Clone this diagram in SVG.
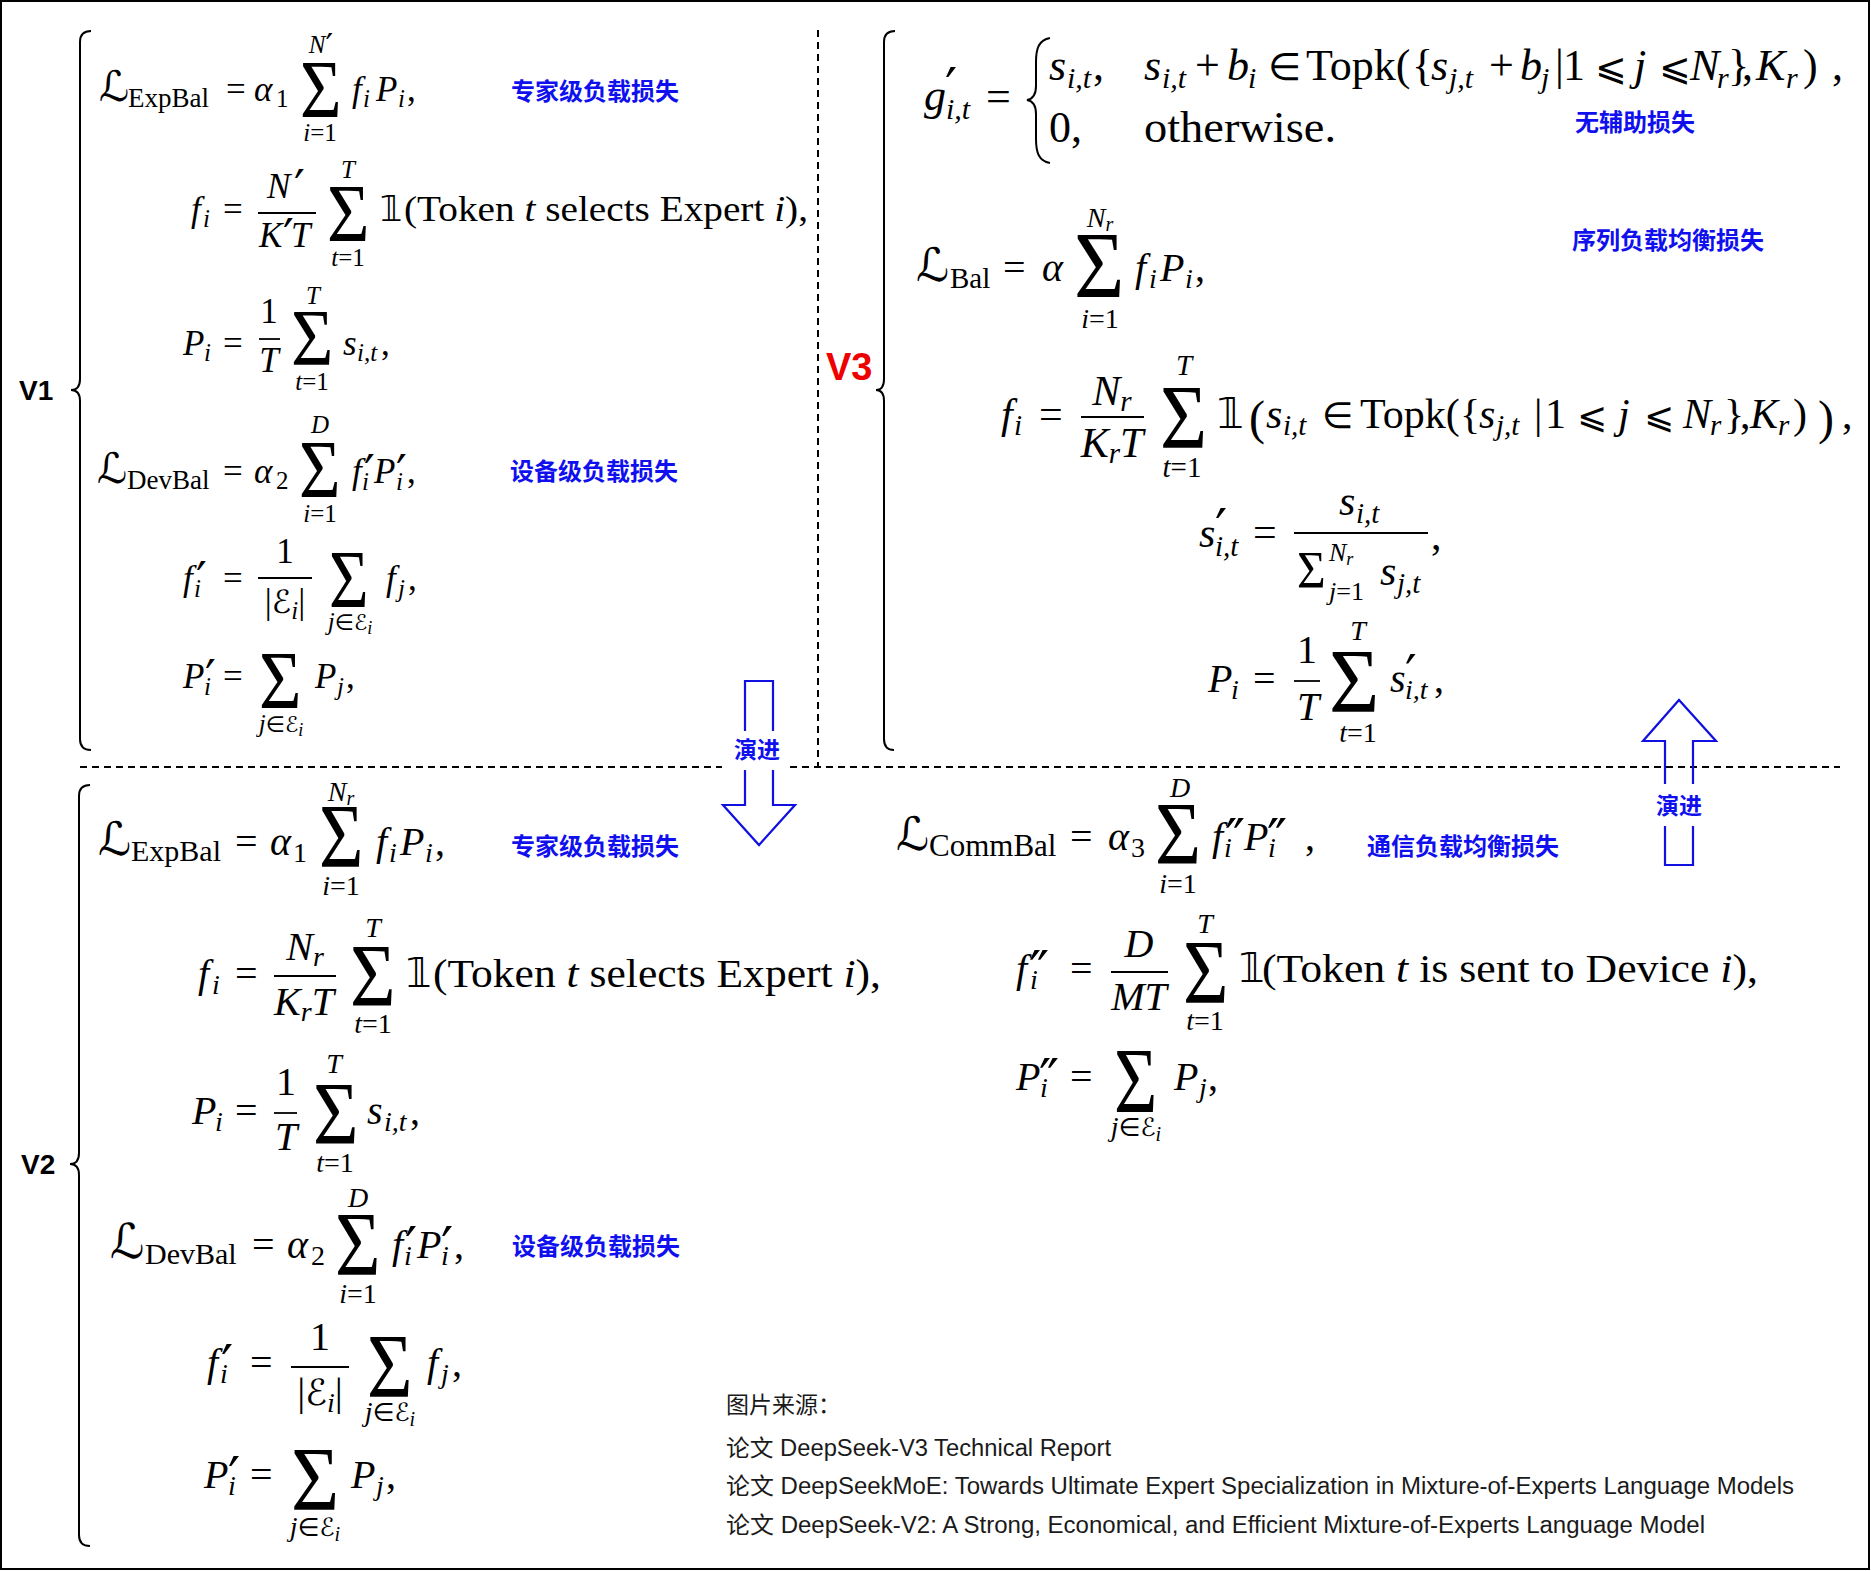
<svg xmlns="http://www.w3.org/2000/svg" width="1871" height="1571" viewBox="0 0 1871 1571">
<style>
.m{font-family:"Liberation Serif","DejaVu Serif",serif;fill:#000}
.i{font-style:italic}
.x{font-family:"DejaVu Sans","DejaVu Serif",sans-serif;font-style:normal}
.c{text-anchor:middle}
.fb{stroke:#000;stroke-width:1.8}
.br{fill:none;stroke:#000;stroke-width:2}
.dash{stroke:#000;stroke-width:2;stroke-dasharray:7 5;fill:none}
.lb{font-family:"Noto Sans CJK SC","Noto Sans CJK JP",sans-serif;font-weight:700;fill:#1010ee}
.v{font-family:"Liberation Sans",Arial,sans-serif;font-weight:700;fill:#000}
.ar{fill:none;stroke:#1010e0;stroke-width:2.2}
.ref{font-family:"Liberation Sans","Noto Sans CJK SC",sans-serif;font-size:23px;fill:#1a1a1a}
</style>
<rect x="0" y="0" width="1871" height="1571" fill="#fff"/>
<rect x="1" y="1" width="1868" height="1568" fill="none" stroke="#000" stroke-width="2"/>

<g id="connectors">
<line class="dash" x1="818" y1="30" x2="818" y2="767"/>
<line class="dash" x1="80" y1="767" x2="722" y2="767"/>
<line class="dash" x1="790" y1="767" x2="1840" y2="767"/>
<path class="ar" d="M745,731 L745,681 L773,681 L773,731 M745,770 L745,805 L723,805 L759,845 L795,805 L773,805 L773,770"/>
<path class="ar" d="M1665,784 L1665,741 L1643,741 L1679,700 L1716,741 L1693,741 L1693,784 M1665,826 L1665,865 L1693,865 L1693,826"/>
<text class="lb c" font-size="23" x="757" y="758">演进</text>
<text class="lb c" font-size="23" x="1679" y="814">演进</text>
</g>

<g id="braces">
<path class="br" d="M91,31 Q80,31 80,42 L80,379 Q80,390 71,390 Q80,390 80,401 L80,739 Q80,750 91,750"/>
<path class="br" d="M895,31 Q884,31 884,42 L884,379 Q884,390 876,390 Q884,390 884,401 L884,739 Q884,750 894,750"/>
<path class="br" d="M90,785 Q79,785 79,796 L79,1153 Q79,1164 70,1164 Q79,1164 79,1175 L79,1535 Q79,1546 90,1546"/>
<text class="v" font-size="28" x="19" y="400">V1</text>
<text class="v" font-size="28" x="21" y="1174">V2</text>
<text class="v" font-size="38" x="826" y="380" style="fill:#ee0000">V3</text>
</g>

<!-- ===== V1 ===== -->
<g id="v1-expbal">
<text class="m" font-size="35"><tspan class="x" x="99" y="101" font-size="42">ℒ</tspan><tspan x="128" y="107" font-size="27">ExpBal</tspan><tspan x="226" y="101">=</tspan><tspan class="i" x="254" y="101">α</tspan><tspan x="276" y="107" font-size="25">1</tspan><tspan class="i" x="352" y="101">f</tspan><tspan class="i" x="363" y="107" font-size="25">i</tspan><tspan class="i" x="376" y="101">P</tspan><tspan class="i" x="398" y="107" font-size="25">i</tspan><tspan x="407" y="101">,</tspan></text>
<text class="m" font-size="83" transform="translate(300,117) scale(0.86,1)">Σ</text>
<text class="m c" font-size="25" x="321" y="53"><tspan class="i">N</tspan><tspan class="x" font-size="34" dy="5">′</tspan></text>
<text class="m c" font-size="25" x="320" y="141"><tspan class="i">i</tspan>=1</text>
<text class="lb" font-size="24" x="511" y="100">专家级负载损失</text>
</g>

<g id="v1-fi">
<text class="m" font-size="35"><tspan class="i" x="191" y="221">f</tspan><tspan class="i" x="203" y="227" font-size="25">i</tspan><tspan x="223" y="221">=</tspan></text>
<text class="m" font-size="35"><tspan class="i" x="267" y="198">N</tspan><tspan class="x" x="294" y="204" font-size="48">′</tspan></text>
<line class="fb" x1="258" y1="213" x2="316" y2="213"/>
<text class="m" font-size="35"><tspan class="i" x="259" y="247">K</tspan><tspan class="x" x="283" y="253" font-size="48">′</tspan><tspan class="i" x="291" y="247">T</tspan></text>
<text class="m" font-size="82" transform="translate(327,241) scale(0.89,1)">Σ</text>
<text class="m c i" font-size="25" x="348" y="178">T</text>
<text class="m c" font-size="25" x="348" y="266"><tspan class="i">t</tspan>=1</text>
<text class="m x" font-size="35" x="380" y="221">𝟙</text>
<text class="m" font-size="35" x="404" y="221" textLength="404" lengthAdjust="spacingAndGlyphs">(Token <tspan class="i">t</tspan> selects Expert <tspan class="i">i</tspan>),</text>
</g>

<g id="v1-pi">
<text class="m" font-size="35"><tspan class="i" x="183" y="355">P</tspan><tspan class="i" x="204" y="361" font-size="25">i</tspan><tspan x="223" y="355">=</tspan></text>
<text class="m c" font-size="35" x="269" y="323">1</text>
<line class="fb" x1="259" y1="339" x2="280" y2="339"/>
<text class="m c i" font-size="35" x="269" y="372">T</text>
<text class="m" font-size="80" transform="translate(291,365) scale(0.91,1)">Σ</text>
<text class="m c i" font-size="25" x="313" y="304">T</text>
<text class="m c" font-size="25" x="312" y="390"><tspan class="i">t</tspan>=1</text>
<text class="m" font-size="35"><tspan class="i" x="343" y="355">s</tspan><tspan class="i" x="357" y="361" font-size="25">i,t</tspan><tspan x="381" y="355">,</tspan></text>
</g>

<g id="v1-devbal">
<text class="m" font-size="35"><tspan class="x" x="97" y="483" font-size="42">ℒ</tspan><tspan x="127" y="489" font-size="27">DevBal</tspan><tspan x="223" y="483">=</tspan><tspan class="i" x="254" y="483">α</tspan><tspan x="276" y="489" font-size="25">2</tspan><tspan class="i" x="352" y="483">f</tspan><tspan class="x" x="364" y="489" font-size="48">′</tspan><tspan class="i" x="362" y="490" font-size="25">i</tspan><tspan class="i" x="374" y="483">P</tspan><tspan class="x" x="396" y="489" font-size="48">′</tspan><tspan class="i" x="396" y="490" font-size="25">i</tspan><tspan x="407" y="483">,</tspan></text>
<text class="m" font-size="83" transform="translate(299,497) scale(0.86,1)">Σ</text>
<text class="m c i" font-size="25" x="320" y="433">D</text>
<text class="m c" font-size="25" x="320" y="522"><tspan class="i">i</tspan>=1</text>
<text class="lb" font-size="24" x="510" y="480">设备级负载损失</text>
</g>

<g id="v1-fprime">
<text class="m" font-size="35"><tspan class="i" x="183" y="590">f</tspan><tspan class="x" x="196" y="596" font-size="48">′</tspan><tspan class="i" x="194" y="597" font-size="25">i</tspan><tspan x="223" y="590">=</tspan></text>
<text class="m c" font-size="35" x="285" y="563">1</text>
<line class="fb" x1="258" y1="578" x2="312" y2="578"/>
<text class="m c" font-size="35" x="285" y="613">|<tspan class="x" font-size="32">ℰ</tspan><tspan class="i" font-size="25" dy="6">i</tspan><tspan dy="-6">|</tspan></text>
<text class="m" font-size="83" transform="translate(329,607) scale(0.82,1)">Σ</text>
<text class="m c" font-size="25" x="350" y="630"><tspan class="i">j</tspan><tspan class="x" font-size="22">∈ℰ</tspan><tspan class="i" font-size="18" dy="4">i</tspan></text>
<text class="m" font-size="35"><tspan class="i" x="386" y="590">f</tspan><tspan class="i" x="398" y="597" font-size="25">j</tspan><tspan x="408" y="590">,</tspan></text>
</g>

<g id="v1-pprime">
<text class="m" font-size="35"><tspan class="i" x="183" y="688">P</tspan><tspan class="x" x="205" y="694" font-size="48">′</tspan><tspan class="i" x="204" y="695" font-size="25">i</tspan><tspan x="223" y="688">=</tspan></text>
<text class="m" font-size="83" transform="translate(259,708) scale(0.88,1)">Σ</text>
<text class="m c" font-size="25" x="281" y="732"><tspan class="i">j</tspan><tspan class="x" font-size="22">∈ℰ</tspan><tspan class="i" font-size="18" dy="4">i</tspan></text>
<text class="m" font-size="35"><tspan class="i" x="315" y="688">P</tspan><tspan class="i" x="337" y="695" font-size="25">j</tspan><tspan x="346" y="688">,</tspan></text>
</g>

<!-- ===== V3 ===== -->
<g id="v3-gate">
<text class="m" font-size="44"><tspan class="i" x="924" y="110">g</tspan><tspan class="x" x="945" y="106" font-size="54">′</tspan><tspan class="i" x="946" y="119" font-size="30">i,t</tspan><tspan x="986" y="111">=</tspan></text>
<path class="br" stroke-width="2.2" d="M1050,38 C1039,40 1036,48 1036,62 L1036,86 C1036,95 1033,99 1027,100 C1033,101 1036,105 1036,114 L1036,139 C1036,153 1039,161 1050,163"/>
<text class="m" font-size="44"><tspan class="i" x="1049" y="80">s</tspan><tspan class="i" x="1067" y="88" font-size="30">i,t</tspan><tspan x="1093" y="80">,</tspan></text>
<text class="m" font-size="44"><tspan class="i" x="1144" y="80">s</tspan><tspan class="i" x="1162" y="88" font-size="30">i,t</tspan><tspan x="1195" y="80">+</tspan><tspan class="i" x="1227" y="80">b</tspan><tspan class="i" x="1248" y="88" font-size="30">i</tspan><tspan class="x" x="1268" y="80" font-size="38">∈</tspan><tspan x="1306" y="80">Topk(</tspan><tspan x="1412" y="80">{</tspan><tspan class="i" x="1431" y="80">s</tspan><tspan class="i" x="1449" y="88" font-size="30">j,t</tspan><tspan x="1489" y="80">+</tspan><tspan class="i" x="1520" y="80">b</tspan><tspan class="i" x="1541" y="88" font-size="30">j</tspan><tspan x="1555" y="80">|</tspan><tspan x="1563" y="80">1</tspan><tspan class="x" x="1595" y="80" font-size="38">⩽</tspan><tspan class="i" x="1634" y="80">j</tspan><tspan class="x" x="1659" y="80" font-size="38">⩽</tspan><tspan class="i" x="1690" y="80">N</tspan><tspan class="i" x="1717" y="88" font-size="30">r</tspan><tspan x="1728" y="80">}</tspan><tspan x="1742" y="80">,</tspan><tspan class="i" x="1756" y="80">K</tspan><tspan class="i" x="1786" y="88" font-size="30">r</tspan><tspan x="1803" y="80">)</tspan><tspan x="1832" y="80">,</tspan></text>
<text class="m" font-size="44" x="1049" y="142">0,</text>
<text class="m" font-size="44" x="1144" y="142" textLength="192" lengthAdjust="spacingAndGlyphs">otherwise.</text>
<text class="lb" font-size="24" x="1575" y="131">无辅助损失</text>
</g>

<g id="v3-bal">
<text class="m" font-size="40"><tspan class="x" x="916" y="281" font-size="46">ℒ</tspan><tspan x="950" y="288" font-size="29">Bal</tspan><tspan x="1003" y="281">=</tspan><tspan class="i" x="1042" y="281">α</tspan><tspan class="i" x="1135" y="281">f</tspan><tspan class="i" x="1149" y="288" font-size="28">i</tspan><tspan class="i" x="1160" y="281">P</tspan><tspan class="i" x="1185" y="288" font-size="28">i</tspan><tspan x="1195" y="281">,</tspan></text>
<text class="m" font-size="95" transform="translate(1074,298) scale(0.91,1)">Σ</text>
<text class="m c" font-size="28" x="1100" y="227"><tspan class="i">N</tspan><tspan class="i" font-size="20" dy="4">r</tspan></text>
<text class="m c" font-size="28" x="1100" y="328"><tspan class="i">i</tspan>=1</text>
<text class="lb" font-size="24" x="1572" y="249">序列负载均衡损失</text>
</g>

<g id="v3-fi">
<text class="m" font-size="42"><tspan class="i" x="1001" y="428">f</tspan><tspan class="i" x="1014" y="435" font-size="29">i</tspan><tspan x="1039" y="428">=</tspan></text>
<text class="m c" font-size="42" x="1112" y="405"><tspan class="i">N</tspan><tspan class="i" font-size="29" dy="6">r</tspan></text>
<line class="fb" x1="1081" y1="417" x2="1144" y2="417"/>
<text class="m c" font-size="42" x="1112" y="457"><tspan class="i">K</tspan><tspan class="i" font-size="29" dy="6">r</tspan><tspan class="i" dy="-6">T</tspan></text>
<text class="m" font-size="92" transform="translate(1160,448) scale(0.88,1)">Σ</text>
<text class="m c i" font-size="29" x="1184" y="375">T</text>
<text class="m c" font-size="29" x="1182" y="477"><tspan class="i">t</tspan>=1</text>
<text class="m" font-size="42"><tspan class="x" x="1217" y="428">𝟙</tspan><tspan x="1249" y="434" font-size="48">(</tspan><tspan class="i" x="1266" y="428">s</tspan><tspan class="i" x="1283" y="435" font-size="29">i,t</tspan><tspan class="x" x="1322" y="428" font-size="36">∈</tspan><tspan x="1360" y="428">Topk(</tspan><tspan x="1460" y="428">{</tspan><tspan class="i" x="1479" y="428">s</tspan><tspan class="i" x="1496" y="435" font-size="29">j,t</tspan><tspan x="1534" y="428">|</tspan><tspan x="1545" y="428">1</tspan><tspan class="x" x="1577" y="428" font-size="36">⩽</tspan><tspan class="i" x="1618" y="428">j</tspan><tspan class="x" x="1644" y="428" font-size="36">⩽</tspan><tspan class="i" x="1683" y="428">N</tspan><tspan class="i" x="1710" y="435" font-size="29">r</tspan><tspan x="1724" y="428">}</tspan><tspan x="1740" y="428">,</tspan><tspan class="i" x="1750" y="428">K</tspan><tspan class="i" x="1778" y="435" font-size="29">r</tspan><tspan x="1793" y="428">)</tspan><tspan x="1818" y="434" font-size="48">)</tspan><tspan x="1842" y="428">,</tspan></text>
</g>

<g id="v3-sprime">
<text class="m" font-size="42"><tspan class="i" x="1199" y="547">s</tspan><tspan class="x" x="1215" y="547" font-size="54">′</tspan><tspan class="i" x="1215" y="556" font-size="29">i,t</tspan><tspan x="1253" y="546">=</tspan></text>
<text class="m" font-size="42"><tspan class="i" x="1339" y="515">s</tspan><tspan class="i" x="1356" y="523" font-size="29">i,t</tspan></text>
<line class="fb" x1="1294" y1="533" x2="1428" y2="533"/>
<text class="m" font-size="53" transform="translate(1297,588) scale(0.93,1)">Σ</text>
<text class="m" font-size="26"><tspan class="i" x="1329" y="561">N</tspan><tspan class="i" font-size="18" dy="4">r</tspan></text>
<text class="m" font-size="26" x="1329" y="600"><tspan class="i">j</tspan>=1</text>
<text class="m" font-size="42"><tspan class="i" x="1380" y="585">s</tspan><tspan class="i" x="1397" y="593" font-size="29">j,t</tspan><tspan x="1431" y="549">,</tspan></text>
</g>

<g id="v3-pi">
<text class="m" font-size="40"><tspan class="i" x="1208" y="692">P</tspan><tspan class="i" x="1231" y="699" font-size="28">i</tspan><tspan x="1253" y="692">=</tspan></text>
<text class="m c" font-size="40" x="1307" y="663">1</text>
<line class="fb" x1="1294" y1="681" x2="1320" y2="681"/>
<text class="m c i" font-size="40" x="1308" y="720">T</text>
<text class="m" font-size="91" transform="translate(1329,712) scale(0.95,1)">Σ</text>
<text class="m c i" font-size="28" x="1358" y="640">T</text>
<text class="m c" font-size="28" x="1358" y="742"><tspan class="i">t</tspan>=1</text>
<text class="m" font-size="40"><tspan class="i" x="1390" y="692">s</tspan><tspan class="x" x="1405" y="692" font-size="52">′</tspan><tspan class="i" x="1405" y="699" font-size="28">i,t</tspan><tspan x="1434" y="692">,</tspan></text>
</g>

<!-- ===== V2 ===== -->
<g id="v2-expbal">
<text class="m" font-size="40"><tspan class="x" x="98" y="855" font-size="46">ℒ</tspan><tspan x="131" y="861" font-size="30">ExpBal</tspan><tspan x="235" y="855">=</tspan><tspan class="i" x="270" y="855">α</tspan><tspan x="293" y="862" font-size="28">1</tspan><tspan class="i" x="376" y="855">f</tspan><tspan class="i" x="389" y="862" font-size="28">i</tspan><tspan class="i" x="400" y="855">P</tspan><tspan class="i" x="425" y="862" font-size="28">i</tspan><tspan x="435" y="855">,</tspan></text>
<text class="m" font-size="91" transform="translate(319,867) scale(0.84,1)">Σ</text>
<text class="m c" font-size="28" x="341" y="801"><tspan class="i">N</tspan><tspan class="i" font-size="20" dy="4">r</tspan></text>
<text class="m c" font-size="28" x="341" y="895"><tspan class="i">i</tspan>=1</text>
<text class="lb" font-size="24" x="511" y="855">专家级负载损失</text>
</g>

<g id="v2-fi">
<text class="m" font-size="40"><tspan class="i" x="198" y="987">f</tspan><tspan class="i" x="212" y="994" font-size="28">i</tspan><tspan x="235" y="987">=</tspan></text>
<text class="m c" font-size="40" x="305" y="960"><tspan class="i">N</tspan><tspan class="i" font-size="28" dy="6">r</tspan></text>
<line class="fb" x1="274" y1="976" x2="336" y2="976"/>
<text class="m c" font-size="40" x="304" y="1015"><tspan class="i">K</tspan><tspan class="i" font-size="28" dy="6">r</tspan><tspan class="i" dy="-6">T</tspan></text>
<text class="m" font-size="88" transform="translate(350,1005) scale(0.89,1)">Σ</text>
<text class="m c i" font-size="28" x="373" y="937">T</text>
<text class="m c" font-size="28" x="373" y="1033"><tspan class="i">t</tspan>=1</text>
<text class="m x" font-size="40" x="406" y="987">𝟙</text>
<text class="m" font-size="40" x="433" y="987" textLength="448" lengthAdjust="spacingAndGlyphs">(Token <tspan class="i">t</tspan> selects Expert <tspan class="i">i</tspan>),</text>
</g>

<g id="v2-pi">
<text class="m" font-size="40"><tspan class="i" x="192" y="1124">P</tspan><tspan class="i" x="215" y="1131" font-size="28">i</tspan><tspan x="235" y="1124">=</tspan></text>
<text class="m c" font-size="40" x="286" y="1095">1</text>
<line class="fb" x1="274" y1="1113" x2="297" y2="1113"/>
<text class="m c i" font-size="40" x="286" y="1150">T</text>
<text class="m" font-size="88" transform="translate(313,1143) scale(0.89,1)">Σ</text>
<text class="m c i" font-size="28" x="334" y="1073">T</text>
<text class="m c" font-size="28" x="335" y="1172"><tspan class="i">t</tspan>=1</text>
<text class="m" font-size="40"><tspan class="i" x="367" y="1124">s</tspan><tspan class="i" x="384" y="1131" font-size="28">i,t</tspan><tspan x="410" y="1124">,</tspan></text>
</g>

<g id="v2-devbal">
<text class="m" font-size="40"><tspan class="x" x="110" y="1258" font-size="48">ℒ</tspan><tspan x="145" y="1264" font-size="30">DevBal</tspan><tspan x="252" y="1258">=</tspan><tspan class="i" x="287" y="1258">α</tspan><tspan x="311" y="1265" font-size="28">2</tspan><tspan class="i" x="392" y="1258">f</tspan><tspan class="x" x="405" y="1265" font-size="54">′</tspan><tspan class="i" x="404" y="1265" font-size="28">i</tspan><tspan class="i" x="417" y="1258">P</tspan><tspan class="x" x="441" y="1265" font-size="54">′</tspan><tspan class="i" x="441" y="1265" font-size="28">i</tspan><tspan x="454" y="1258">,</tspan></text>
<text class="m" font-size="91" transform="translate(335,1275) scale(0.86,1)">Σ</text>
<text class="m c i" font-size="28" x="358" y="1207">D</text>
<text class="m c" font-size="28" x="358" y="1303"><tspan class="i">i</tspan>=1</text>
<text class="lb" font-size="24" x="512" y="1255">设备级负载损失</text>
</g>

<g id="v2-fprime">
<text class="m" font-size="40"><tspan class="i" x="207" y="1376">f</tspan><tspan class="x" x="221" y="1383" font-size="54">′</tspan><tspan class="i" x="220" y="1383" font-size="28">i</tspan><tspan x="250" y="1376">=</tspan></text>
<text class="m c" font-size="40" x="320" y="1350">1</text>
<line class="fb" x1="291" y1="1367" x2="349" y2="1367"/>
<text class="m c" font-size="40" x="320" y="1405">|<tspan class="x" font-size="36">ℰ</tspan><tspan class="i" font-size="28" dy="7">i</tspan><tspan dy="-7">|</tspan></text>
<text class="m" font-size="91" transform="translate(367,1397) scale(0.86,1)">Σ</text>
<text class="m c" font-size="28" x="390" y="1421"><tspan class="i">j</tspan><tspan class="x" font-size="25">∈ℰ</tspan><tspan class="i" font-size="20" dy="5">i</tspan></text>
<text class="m" font-size="40"><tspan class="i" x="427" y="1376">f</tspan><tspan class="i" x="441" y="1383" font-size="28">j</tspan><tspan x="452" y="1376">,</tspan></text>
</g>

<g id="v2-pprime">
<text class="m" font-size="40"><tspan class="i" x="204" y="1488">P</tspan><tspan class="x" x="228" y="1495" font-size="54">′</tspan><tspan class="i" x="228" y="1495" font-size="28">i</tspan><tspan x="250" y="1488">=</tspan></text>
<text class="m" font-size="91" transform="translate(291,1510) scale(0.91,1)">Σ</text>
<text class="m c" font-size="28" x="315" y="1536"><tspan class="i">j</tspan><tspan class="x" font-size="25">∈ℰ</tspan><tspan class="i" font-size="20" dy="5">i</tspan></text>
<text class="m" font-size="40"><tspan class="i" x="351" y="1488">P</tspan><tspan class="i" x="376" y="1495" font-size="28">j</tspan><tspan x="386" y="1488">,</tspan></text>
</g>

<g id="v2-commbal">
<text class="m" font-size="40"><tspan class="x" x="896" y="850" font-size="46">ℒ</tspan><tspan x="929" y="856" font-size="31">CommBal</tspan><tspan x="1070" y="850">=</tspan><tspan class="i" x="1108" y="850">α</tspan><tspan x="1131" y="857" font-size="28">3</tspan><tspan class="i" x="1212" y="850">f</tspan><tspan class="x" x="1225" y="857" font-size="54">″</tspan><tspan class="i" x="1224" y="857" font-size="28">i</tspan><tspan class="i" x="1244" y="850">P</tspan><tspan class="x" x="1267" y="857" font-size="54">″</tspan><tspan class="i" x="1268" y="857" font-size="28">i</tspan><tspan x="1305" y="850">,</tspan></text>
<text class="m" font-size="88" transform="translate(1155,863) scale(0.9,1)">Σ</text>
<text class="m c i" font-size="28" x="1180" y="797">D</text>
<text class="m c" font-size="28" x="1178" y="893"><tspan class="i">i</tspan>=1</text>
<text class="lb" font-size="24" x="1367" y="855">通信负载均衡损失</text>
</g>

<g id="v2-fdprime">
<text class="m" font-size="40"><tspan class="i" x="1016" y="982">f</tspan><tspan class="x" x="1029" y="989" font-size="54">″</tspan><tspan class="i" x="1030" y="989" font-size="28">i</tspan><tspan x="1070" y="982">=</tspan></text>
<text class="m c i" font-size="40" x="1139" y="957">D</text>
<line class="fb" x1="1111" y1="972" x2="1168" y2="972"/>
<text class="m c i" font-size="40" x="1139" y="1010">MT</text>
<text class="m" font-size="92" transform="translate(1183,1003) scale(0.85,1)">Σ</text>
<text class="m c i" font-size="28" x="1205" y="933">T</text>
<text class="m c" font-size="28" x="1205" y="1030"><tspan class="i">t</tspan>=1</text>
<text class="m x" font-size="40" x="1239" y="982">𝟙</text>
<text class="m" font-size="40" x="1262" y="982" textLength="496" lengthAdjust="spacingAndGlyphs">(Token <tspan class="i">t</tspan> is sent to Device <tspan class="i">i</tspan>),</text>
</g>

<g id="v2-pdprime">
<text class="m" font-size="40"><tspan class="i" x="1016" y="1090">P</tspan><tspan class="x" x="1039" y="1097" font-size="54">″</tspan><tspan class="i" x="1040" y="1097" font-size="28">i</tspan><tspan x="1070" y="1090">=</tspan></text>
<text class="m" font-size="93" transform="translate(1114,1112) scale(0.8,1)">Σ</text>
<text class="m c" font-size="28" x="1136" y="1136"><tspan class="i">j</tspan><tspan class="x" font-size="25">∈ℰ</tspan><tspan class="i" font-size="20" dy="5">i</tspan></text>
<text class="m" font-size="40"><tspan class="i" x="1174" y="1090">P</tspan><tspan class="i" x="1199" y="1097" font-size="28">j</tspan><tspan x="1208" y="1090">,</tspan></text>
</g>

<g id="sources">
<text class="ref" x="726" y="1413">图片来源：</text>
<text class="ref" x="726" y="1456" textLength="385" lengthAdjust="spacingAndGlyphs">论文 DeepSeek-V3 Technical Report</text>
<text class="ref" x="726" y="1494" textLength="1068" lengthAdjust="spacingAndGlyphs">论文 DeepSeekMoE: Towards Ultimate Expert Specialization in Mixture-of-Experts Language Models</text>
<text class="ref" x="726" y="1533" textLength="979" lengthAdjust="spacingAndGlyphs">论文 DeepSeek-V2: A Strong, Economical, and Efficient Mixture-of-Experts Language Model</text>
</g>
</svg>
